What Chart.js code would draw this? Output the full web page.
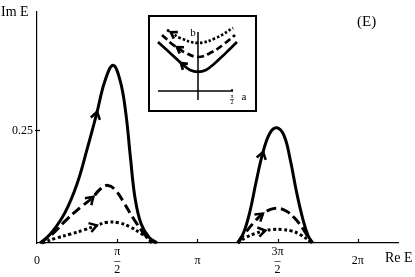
<!DOCTYPE html>
<html>
<head>
<meta charset="utf-8">
<script src="https://cdn.jsdelivr.net/npm/chart.js@4/dist/chart.umd.min.js"></script>
<style>
  body { margin: 0; background: #fff; }
  #wrap { position: relative; width: 415px; height: 277px; }
  #inset { position: absolute; left: 148px; top: 15px; width: 109px; height: 97px;
           border: 2px solid #000; box-sizing: border-box; background: #fff; }
  #inset canvas { display: block; }
</style>
</head>
<body>
<div id="wrap">
  <canvas id="main" width="415" height="277"></canvas>
  <div id="inset"><canvas id="insetChart" width="105" height="93"></canvas></div>
</div>
<script>
// main plot, points as [Re E, Im E]
const solidLeft = [[0.08,0],[0.30,0.025],[0.55,0.068],[0.78,0.130],[0.98,0.208],[1.17,0.288],[1.33,0.360],[1.49,0.395],[1.63,0.360],[1.74,0.288],[1.83,0.190],[1.92,0.100],[2.04,0.042],[2.20,0.012],[2.35,0]];
const solidRight = [[3.93,0],[4.05,0.024],[4.17,0.070],[4.29,0.135],[4.42,0.199],[4.56,0.244],[4.70,0.256],[4.84,0.238],[4.96,0.185],[5.08,0.115],[5.20,0.056],[5.31,0.016],[5.40,0]];
const dashedLeft = [[0.06,0],[0.30,0.020],[0.58,0.052],[0.86,0.080],[1.08,0.100],[1.24,0.120],[1.39,0.128],[1.54,0.117],[1.70,0.090],[1.88,0.056],[2.06,0.026],[2.25,0]];
const dashedRight = [[3.93,0],[4.09,0.024],[4.25,0.046],[4.40,0.063],[4.56,0.074],[4.72,0.077],[4.88,0.071],[5.04,0.056],[5.20,0.033],[5.38,0]];
const dottedLeft = [[0.10,0],[0.38,0.011],[0.66,0.020],[0.92,0.029],[1.14,0.038],[1.38,0.046],[1.60,0.045],[1.82,0.036],[2.04,0.021],[2.31,0]];
const dottedRight = [[3.93,0],[4.10,0.013],[4.27,0.021],[4.44,0.027],[4.62,0.030],[4.80,0.030],[4.98,0.027],[5.15,0.019],[5.40,0]];

const xTickValues = [0, Math.PI / 2, Math.PI, 3 * Math.PI / 2, 2 * Math.PI];
const xTickLabels = ['0', 'π/2', 'π', '3π/2', '2π'];
const yTickValues = [0.25];
const yTickLabels = ['0.25'];

// inset, points as [a, b]
const insetSolid = [[-1.85,2.26],[-1.29,1.76],[-0.74,1.25],[-0.37,0.97],[0,0.88],[0.37,0.97],[0.74,1.25],[1.29,1.76],[1.80,2.26]];
const insetDashed = [[-1.66,2.59],[-1.20,2.17],[-0.92,1.99],[-0.65,1.80],[0,1.57],[0.65,1.80],[1.20,2.17],[1.71,2.59]];
const insetDotted = [[-1.43,2.82],[-1.20,2.68],[-0.83,2.45],[0,2.22],[0.83,2.45],[1.62,2.91]];

const pts = arr => arr.map(p => ({ x: p[0], y: p[1] }));
const serif = '"Liberation Serif", "DejaVu Serif", serif';

function drawArrow(ctx, x, y, ang, size, lw) {
  ctx.save();
  ctx.translate(x, y);
  ctx.rotate(ang);
  ctx.setLineDash([]);
  ctx.lineWidth = lw;
  ctx.strokeStyle = '#000';
  ctx.lineJoin = 'miter';
  ctx.beginPath();
  ctx.moveTo(-size, -size * 0.85);
  ctx.lineTo(size * 0.3, 0);
  ctx.lineTo(-size, size * 0.85);
  ctx.stroke();
  ctx.restore();
}

const arrowPlugin = {
  id: 'arrows',
  afterDatasetsDraw(chart) {
    chart.data.datasets.forEach((ds, i) => {
      if (ds.arrowAt == null) return;
      const p = chart.getDatasetMeta(i).data;
      const k = ds.arrowAt, d = ds.arrowDir || 1;
      const a = p[k - d], b = p[k + d];
      drawArrow(chart.ctx, p[k].x, p[k].y, Math.atan2(b.y - a.y, b.x - a.x), ds.arrowSize, ds.arrowWidth);
    });
  }
};

function line(data, kind, arrowAt, extra) {
  const dash = kind === 'dashed' ? [10, 4.5] : kind === 'dotted' ? [3, 2.5] : [];
  return Object.assign({
    data: pts(data), borderColor: '#000', borderWidth: 3, borderDash: dash,
    borderCapStyle: 'butt', pointRadius: 0, tension: 0.4,
    clip: 5, arrowAt: arrowAt, arrowSize: 5.5, arrowWidth: 2.5
  }, extra || {});
}

const decorPlugin = {
  id: 'decor',
  afterDraw(chart) {
    const { ctx, scales: { x, y } } = chart;
    ctx.save();
    ctx.strokeStyle = '#000';
    ctx.lineWidth = 1.2;
    xTickValues.forEach(v => {
      if (v === 0) return;
      const px = Math.round(x.getPixelForValue(v)) + 0.5;
      ctx.beginPath(); ctx.moveTo(px, y.bottom); ctx.lineTo(px, y.bottom - 4); ctx.stroke();
    });
    yTickValues.forEach(v => {
      const py = Math.round(y.getPixelForValue(v)) + 0.5;
      ctx.beginPath(); ctx.moveTo(x.left - 2, py); ctx.lineTo(x.left + 3, py); ctx.stroke();
    });
    ctx.fillStyle = '#000';
    ctx.textBaseline = 'middle';
    ctx.font = '14px ' + serif;
    ctx.fillText('Im E', 1, 12);
    ctx.fillText('Re E', 385, 258);
    ctx.font = '15px ' + serif;
    ctx.fillText('(E)', 357, 22);
    ctx.restore();
  }
};

new Chart(document.getElementById('main'), {
  type: 'line',
  data: {
    datasets: [
      line(solidLeft, 'solid', 5),
      line(solidRight, 'solid', 4),
      line(dashedLeft, 'dashed', 4),
      line(dashedRight, 'dashed', 3),
      line(dottedLeft, 'dotted', 4),
      line(dottedRight, 'dotted', 3)
    ]
  },
  options: {
    responsive: false,
    animation: false,
    devicePixelRatio: 1,
    layout: { padding: { top: 2, right: 17, left: 0, bottom: 0 } },
    plugins: { legend: { display: false }, tooltip: { enabled: false } },
    scales: {
      x: {
        type: 'linear', min: 0, max: 7.07,
        grid: { display: false, drawTicks: false },
        border: { display: true, color: '#000', width: 1.2 },
        afterBuildTicks: s => { s.ticks = xTickValues.map(v => ({ value: v })); },
        afterFit: s => { s.height = 34; },
        ticks: {
          autoSkip: false, maxRotation: 0, padding: 5, color: '#000',
          font: { family: serif, size: 12, lineHeight: 0.72 },
          callback: (v, i) => {
            const t = xTickLabels[i];
            if (t.includes('/')) { const [n, d] = t.split('/'); return [n, '–', d]; }
            return ['', t, ''];
          }
        }
      },
      y: {
        type: 'linear', min: 0, max: 0.515,
        grid: { display: false, drawTicks: false },
        border: { display: true, color: '#000', width: 1.2 },
        afterBuildTicks: s => { s.ticks = yTickValues.map(v => ({ value: v })); },
        afterFit: s => { s.width = 37; },
        ticks: {
          padding: 4, color: '#000',
          font: { family: serif, size: 12 },
          callback: (v, i) => yTickLabels[i]
        }
      }
    }
  },
  plugins: [arrowPlugin, decorPlugin]
});

const insetDecor = {
  id: 'insetDecor',
  beforeDatasetsDraw(chart) {
    const { ctx, scales: { x, y } } = chart;
    const x0 = x.getPixelForValue(0), y0 = y.getPixelForValue(0);
    ctx.save();
    ctx.strokeStyle = '#000';
    ctx.lineWidth = 1.5;
    ctx.beginPath();
    ctx.moveTo(x0, y.getPixelForValue(2.73)); ctx.lineTo(x0, y.getPixelForValue(-0.42));
    ctx.moveTo(x.getPixelForValue(-1.85), y0); ctx.lineTo(x.getPixelForValue(1.62), y0);
    const tx = x.getPixelForValue(Math.PI / 2);
    ctx.moveTo(tx, y0); ctx.lineTo(tx, y0 - 2);
    ctx.stroke();
    ctx.fillStyle = '#000';
    ctx.textAlign = 'center';
    ctx.textBaseline = 'middle';
    ctx.font = '11px ' + serif;
    ctx.fillText('b', x0 - 5, y.getPixelForValue(2.73) + 1);
    ctx.fillText('a', x.getPixelForValue(2.12), y0 + 6);
    ctx.font = '6px ' + serif;
    ctx.fillText('π', tx, y0 + 5);
    ctx.fillText('2', tx, y0 + 11);
    ctx.fillRect(tx - 2, y0 + 8, 4, 0.6);
    ctx.restore();
  }
};

function insetLine(data, kind, arrowAt) {
  const dash = kind === 'dashed' ? [7, 3.5] : kind === 'dotted' ? [2.5, 2] : [];
  return line(data, kind, arrowAt, { borderWidth: 2.7, borderDash: dash,
    arrowDir: -1, arrowSize: 4.5, arrowWidth: 2.7 });
}

new Chart(document.getElementById('insetChart'), {
  type: 'line',
  data: {
    datasets: [
      insetLine(insetSolid, 'solid', 2),
      insetLine(insetDashed, 'dashed', 2),
      insetLine(insetDotted, 'dotted', 1)
    ]
  },
  options: {
    responsive: false,
    animation: false,
    devicePixelRatio: 1,
    layout: { padding: 0 },
    plugins: { legend: { display: false }, tooltip: { enabled: false } },
    scales: {
      x: { type: 'linear', display: false, min: -2.217, max: 2.633 },
      y: { type: 'linear', display: false, min: -0.878, max: 3.418 }
    }
  },
  plugins: [arrowPlugin, insetDecor]
});
</script>
</body>
</html>
